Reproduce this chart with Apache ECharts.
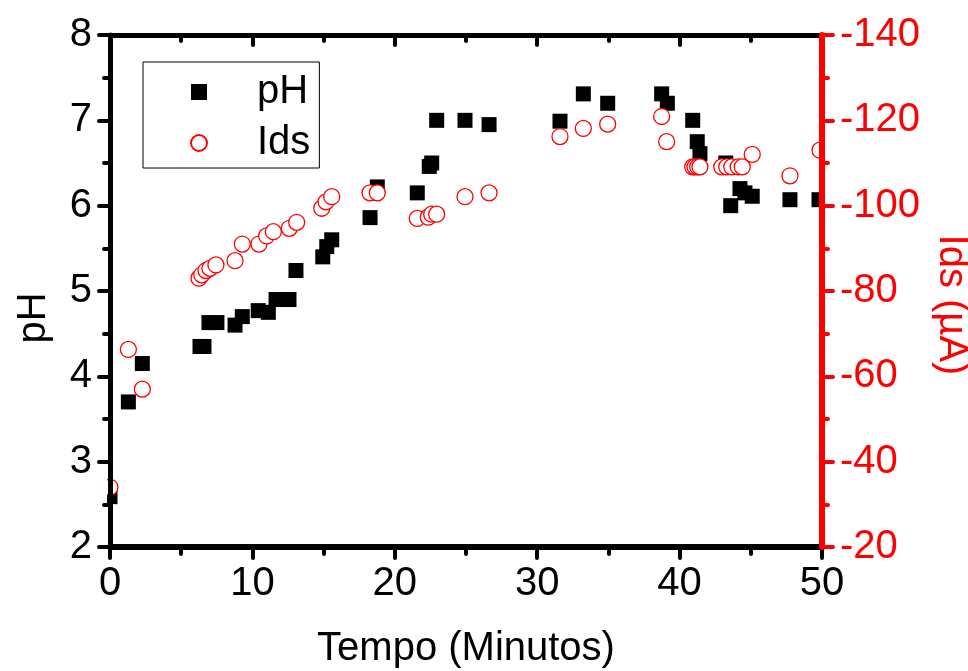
<!DOCTYPE html>
<html>
<head>
<meta charset="utf-8">
<script src="https://cdn.jsdelivr.net/npm/echarts@6/dist/echarts.min.js"></script>
<style>html,body{margin:0;padding:0;background:#fff}#c{width:968px;height:671px}</style>
</head>
<body>
<div id="c"></div>
<script>
// pH series (time in minutes, pH)
var phTime  = [0, 1.29, 2.27, 6.32, 6.60, 6.95, 7.51, 8.78, 9.29, 10.41, 11.12, 11.66, 12.57, 13.06, 14.94, 15.22, 15.57, 18.26, 18.77, 21.58, 22.42, 22.59, 22.94, 24.93, 26.62, 31.60, 33.24, 34.95, 38.74, 39.14, 40.92, 41.24, 41.43, 43.24, 43.59, 44.24, 44.59, 45.10, 47.75, 49.79];
var phValue = [2.59, 3.70, 4.15, 4.35, 4.35, 4.63, 4.63, 4.60, 4.70, 4.77, 4.75, 4.90, 4.90, 5.24, 5.40, 5.52, 5.60, 5.86, 6.22, 6.15, 6.46, 6.50, 7.00, 7.00, 6.95, 6.99, 7.31, 7.20, 7.31, 7.20, 7.00, 6.75, 6.61, 6.50, 6.00, 6.20, 6.15, 6.11, 6.07, 6.07];
// Ids series (time in minutes, current in µA)
var idsTime  = [0, 1.29, 2.27, 6.25, 6.44, 6.74, 7.02, 7.44, 8.78, 9.29, 10.46, 11.00, 11.47, 12.59, 13.11, 14.87, 15.17, 15.57, 18.26, 18.77, 21.58, 22.35, 22.59, 22.94, 24.93, 26.62, 31.60, 33.24, 34.95, 38.74, 39.09, 40.92, 41.08, 41.27, 41.43, 42.96, 43.31, 43.66, 44.12, 44.40, 45.10, 47.75, 49.86];
var idsValue = [-34.0, -66.3, -57.0, -83.0, -83.8, -84.8, -85.3, -86.1, -87.1, -91.0, -91.0, -92.9, -93.9, -94.7, -96.1, -99.4, -100.9, -102.1, -103.0, -103.0, -97.0, -97.3, -98.0, -98.0, -102.1, -103.0, -116.2, -118.1, -119.1, -120.9, -115.0, -109.1, -109.1, -109.1, -109.1, -109.1, -109.1, -109.1, -109.1, -109.1, -112.0, -107.0, -113.0];

var xRange = {min: 0, max: 50, interval: 10};
var phRange = {min: 2, max: 8, interval: 1};
var idsRange = {min: -140, max: -20, interval: 20};

var FONT = "'Liberation Sans', Arial, sans-serif";
var RED = '#ff0000';

function zip(a, b) { return a.map(function (v, i) { return [v, b[i]]; }); }

var chart = echarts.init(document.getElementById('c'), null, {renderer: 'canvas'});

var W = 968, H = 671, gL = 110, gR = 146, gT = 35, gB = 124;

var tickStyle = {color: '#000', width: 4, cap: 'round'};
var redTick = {color: RED, width: 4, cap: 'round'};

chart.setOption({
  backgroundColor: '#fff',
  animation: false,
  textStyle: {fontFamily: FONT},
  grid: {left: gL, right: gR, top: gT, bottom: gB, containLabel: false, outerBoundsMode: 'none'},
  legend: {
    left: 143, top: 62, orient: 'vertical',
    padding: [8, 9, 3, 47],
    itemGap: 7, itemWidth: 16, itemHeight: 16,
    borderColor: '#000', borderWidth: 1, backgroundColor: '#fff',
    textStyle: {fontSize: 40, lineHeight: 44, color: '#000', fontFamily: FONT, padding: [0, 0, 0, 45]},
    data: [{name: 'pH', icon: 'rect'}, {name: 'Ids', icon: 'circle'}]
  },
  xAxis: [{
    type: 'value', position: 'bottom', min: xRange.min, max: xRange.max, interval: xRange.interval,
    z: 10,
    axisLine: {show: true, onZero: false, lineStyle: {color: '#000', width: 6}},
    axisTick: {show: true, inside: false, length: 11, lineStyle: tickStyle},
    minorTick: {show: true, splitNumber: 2, length: 7, lineStyle: tickStyle},
    splitLine: {show: false},
    axisLabel: {fontSize: 40, color: '#000', margin: 17, fontFamily: FONT},
    name: 'Tempo (Minutos)', nameLocation: 'middle', nameGap: 82,
    nameTextStyle: {fontSize: 40, color: '#000', fontFamily: FONT}
  }, {
    type: 'value', position: 'top', min: xRange.min, max: xRange.max, interval: xRange.interval,
    z: 10,
    axisLine: {show: true, onZero: false, lineStyle: {color: '#000', width: 5}},
    axisTick: {show: true, inside: true, length: 10, lineStyle: tickStyle},
    minorTick: {show: true, splitNumber: 2, length: 6, lineStyle: tickStyle},
    splitLine: {show: false},
    axisLabel: {show: false}
  }],
  yAxis: [{
    type: 'value', position: 'left', min: phRange.min, max: phRange.max, interval: phRange.interval,
    z: 10,
    axisLine: {show: true, onZero: false, lineStyle: {color: '#000', width: 5}},
    axisTick: {show: true, inside: false, length: 11, lineStyle: tickStyle},
    minorTick: {show: true, splitNumber: 2, length: 6, lineStyle: tickStyle},
    splitLine: {show: false},
    axisLabel: {fontSize: 40, color: '#000', margin: 18, fontFamily: FONT},
    name: 'pH', nameLocation: 'middle', nameGap: 56, nameRotate: 90,
    nameTextStyle: {fontSize: 40, color: '#000', fontFamily: FONT, padding: [0, 54, 0, 0]}
  }, {
    type: 'value', position: 'right', min: idsRange.min, max: idsRange.max, interval: idsRange.interval,
    inverse: true, z: 11,
    axisLine: {show: true, onZero: false, lineStyle: {color: RED, width: 6}},
    axisTick: {show: true, inside: false, length: 11, lineStyle: redTick},
    minorTick: {show: true, splitNumber: 2, length: 6, lineStyle: redTick},
    splitLine: {show: false},
    axisLabel: {fontSize: 40, color: RED, margin: 18, fontFamily: FONT},
    name: 'Ids (\u00b5A)', nameLocation: 'middle', nameGap: 107, nameRotate: -90,
    nameTextStyle: {fontSize: 40, color: RED, fontFamily: FONT, padding: [0, 0, 0, 28]}
  }],
  graphic: [
    {type: 'rect', z: 5, silent: true, shape: {x: 0, y: 0, width: gL - 3, height: H}, style: {fill: '#fff'}},
    {type: 'rect', z: 5, silent: true, shape: {x: W - gR + 3, y: 0, width: gR, height: H}, style: {fill: '#fff'}},
    {type: 'rect', z: 5, silent: true, shape: {x: 0, y: 0, width: W, height: gT - 3}, style: {fill: '#fff'}},
    {type: 'rect', z: 5, silent: true, shape: {x: 0, y: H - gB + 3, width: W, height: gB}, style: {fill: '#fff'}}
  ],
  series: [{
    name: 'pH', type: 'scatter', xAxisIndex: 0, yAxisIndex: 0,
    symbol: 'rect', symbolSize: 15,
    itemStyle: {color: '#000', opacity: 1},
    data: zip(phTime, phValue), z: 2
  }, {
    name: 'Ids', type: 'scatter', xAxisIndex: 0, yAxisIndex: 1,
    symbol: 'circle', symbolSize: 16,
    itemStyle: {color: '#fff', borderColor: RED, borderWidth: 1.3, opacity: 1},
    data: zip(idsTime, idsValue), z: 3
  }]
});
</script>
</body>
</html>
